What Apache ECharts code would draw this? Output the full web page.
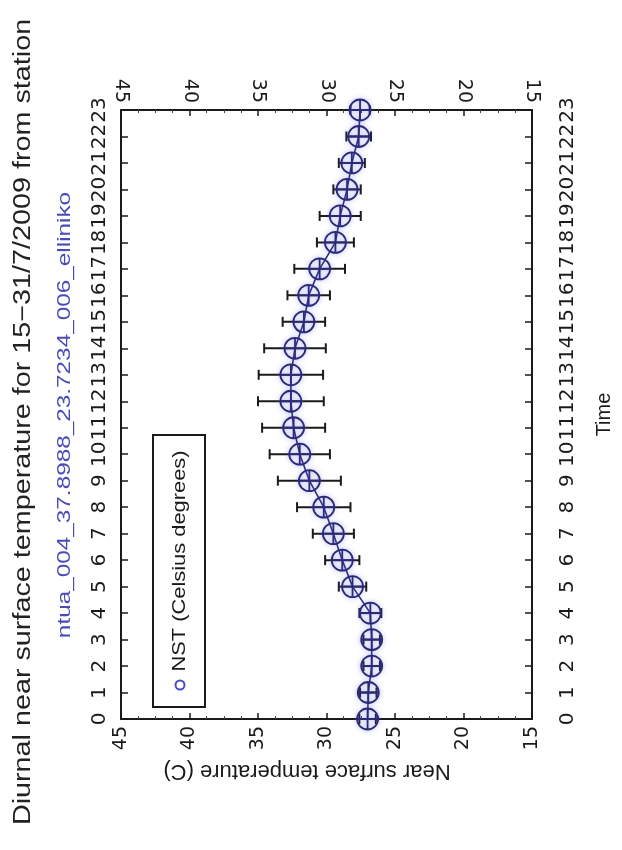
<!DOCTYPE html>
<html>
<head>
<meta charset="utf-8">
<script src="https://cdn.jsdelivr.net/npm/echarts@6/dist/echarts.min.js"></script>
<style>
  html, body { margin: 0; padding: 0; background: #fff; }
  #main { width: 622px; height: 850px; }
</style>
</head>
<body>
<div id="main"></div>
<script>
// hours of the day (time axis)
var hours = [0, 1, 2, 3, 4, 5, 6, 7, 8, 9, 10, 11, 12, 13, 14, 15, 16, 17, 18, 19, 20, 21, 22, 23];
// mean near surface temperature (C)
var nst = [27.0, 26.95, 26.7, 26.7, 26.8, 28.1, 28.85, 29.5, 30.2, 31.25, 31.95, 32.4,
           32.6, 32.6, 32.3, 31.65, 31.3, 30.5, 29.35, 29.0, 28.5, 28.15, 27.65, 27.55];
// error bar half width (C)
var nstErr = [0.6, 0.6, 0.6, 0.6, 0.8, 1.0, 1.25, 1.5, 1.95, 2.3, 2.2, 2.3,
              2.4, 2.35, 2.25, 1.55, 1.55, 1.85, 1.35, 1.5, 1.0, 0.95, 0.9, 0.7];
// temperature axis
var tempMin = 15, tempMax = 45, tempStep = 5;

var titleText = 'Diurnal near surface temperature for 15\u221231/7/2009 from station';
var subText = 'ntua_004_37.8988_23.7234_006_elliniko';
var legendText = 'NST (Celsius degrees)';

var navy = '#2a2a78';
var ink = '#1a1a1a';

var myChart = echarts.init(document.getElementById('main'));

var lineData = [], barData = [];
for (var i = 0; i < hours.length; i++) {
    lineData.push([nst[i], hours[i]]);
    barData.push([nst[i], hours[i], nstErr[i]]);
}

function tempAxis(pos) {
    return {
        type: 'value',
        position: pos,
        inverse: true,
        min: tempMin,
        max: tempMax,
        interval: tempStep,
        axisLine: { show: true, onZero: false, lineStyle: { color: ink, width: 2 } },
        axisTick: { show: true, inside: true, length: 6, lineStyle: { color: ink, width: 1.5 } },
        minorTick: { show: true, splitNumber: 4, length: 3, lineStyle: { color: '#444', width: 1 } },
        splitLine: { show: false },
        axisLabel: { rotate: 90, margin: 7, fontSize: 19, fontFamily: 'DejaVu Sans', color: ink }
    };
}

function timeAxis(pos) {
    var ax = {
        type: 'value',
        position: pos,
        min: 0,
        max: 23,
        interval: 1,
        axisLine: { show: true, onZero: false, lineStyle: { color: ink, width: 2 } },
        axisTick: { show: true, inside: true, length: 7, lineStyle: { color: ink, width: 1.5 } },
        splitLine: { show: false },
        axisLabel: { rotate: 90, margin: pos === 'left' ? 11 : 26, fontSize: 20, fontFamily: 'DejaVu Sans', color: ink }
    };
    if (pos === 'right') {
        ax.name = 'Time';
        ax.nameLocation = 'middle';
        ax.nameRotate = 90;
        ax.nameGap = 62;
        ax.nameTextStyle = { fontSize: 20, fontFamily: 'Liberation Sans', color: ink };
    }
    return ax;
}

var option = {
    backgroundColor: '#fff',
    animation: false,
    grid: { left: 121, right: 82, top: 110, bottom: 131 },
    xAxis: [tempAxis('bottom'), tempAxis('top')],
    yAxis: [timeAxis('left'), timeAxis('right')],
    graphic: [
        {
            type: 'text', x: 24, y: 422, rotation: Math.PI / 2, scaleX: 1.25,
            style: { text: titleText, fontSize: 23, fontFamily: 'Liberation Sans', fill: '#222', align: 'center', verticalAlign: 'middle' }
        },
        {
            type: 'text', x: 65, y: 415, rotation: Math.PI / 2, scaleX: 1.28,
            style: { text: subText, fontSize: 19, fontFamily: 'Liberation Sans', fill: '#4b4bb8', align: 'center', verticalAlign: 'middle' }
        },
        {
            type: 'text', x: 307, y: 771, rotation: Math.PI,
            style: { text: 'Near surface temperature (C)', fontSize: 22, fontFamily: 'Liberation Sans', fill: ink, align: 'center', verticalAlign: 'middle' }
        },
        // legend box
        {
            type: 'rect', shape: { x: 153, y: 435, width: 52, height: 272 },
            style: { fill: 'none', stroke: ink, lineWidth: 2 }
        },
        {
            type: 'circle', shape: { cx: 180, cy: 685, r: 4.5 },
            style: { fill: 'none', stroke: '#4a4acc', lineWidth: 2 }
        },
        {
            type: 'text', x: 180, y: 561, rotation: Math.PI / 2, scaleX: 1.15,
            style: { text: legendText, fontSize: 19, fontFamily: 'Liberation Sans', fill: ink, align: 'center', verticalAlign: 'middle' }
        }
    ],
    series: [
        {
            // error bars
            type: 'custom',
            xAxisIndex: 0,
            yAxisIndex: 0,
            data: barData,
            encode: { x: 0, y: 1 },
            renderItem: function (params, api) {
                var t = api.value(0), h = api.value(1), e = api.value(2);
                var lo = api.coord([t - e, h]);
                var hi = api.coord([t + e, h]);
                var cap = 5;
                var st = { stroke: ink, lineWidth: 2 };
                return {
                    type: 'group',
                    children: [
                        { type: 'line', shape: { x1: lo[0], y1: lo[1], x2: hi[0], y2: hi[1] }, style: st },
                        { type: 'line', shape: { x1: lo[0], y1: lo[1] - cap, x2: lo[0], y2: lo[1] + cap }, style: st },
                        { type: 'line', shape: { x1: hi[0], y1: hi[1] - cap, x2: hi[0], y2: hi[1] + cap }, style: st }
                    ]
                };
            },
            z: 2
        },
        {
            name: 'NST',
            type: 'line',
            xAxisIndex: 0,
            yAxisIndex: 0,
            data: lineData,
            symbol: 'path://M0,10A10,10,0,1,1,20,10A10,10,0,1,1,0,10ZM10,0L10,20M0,10L20,10',
            symbolSize: 21,
            showAllSymbol: true,
            lineStyle: { color: navy, width: 1.6 },
            itemStyle: {
                color: 'rgba(0,0,0,0)',
                borderColor: navy,
                borderWidth: 1.8,
                shadowBlur: 5,
                shadowColor: 'rgba(90,90,230,0.55)'
            },
            z: 3
        }
    ]
};
myChart.setOption(option);
</script>
</body>
</html>
